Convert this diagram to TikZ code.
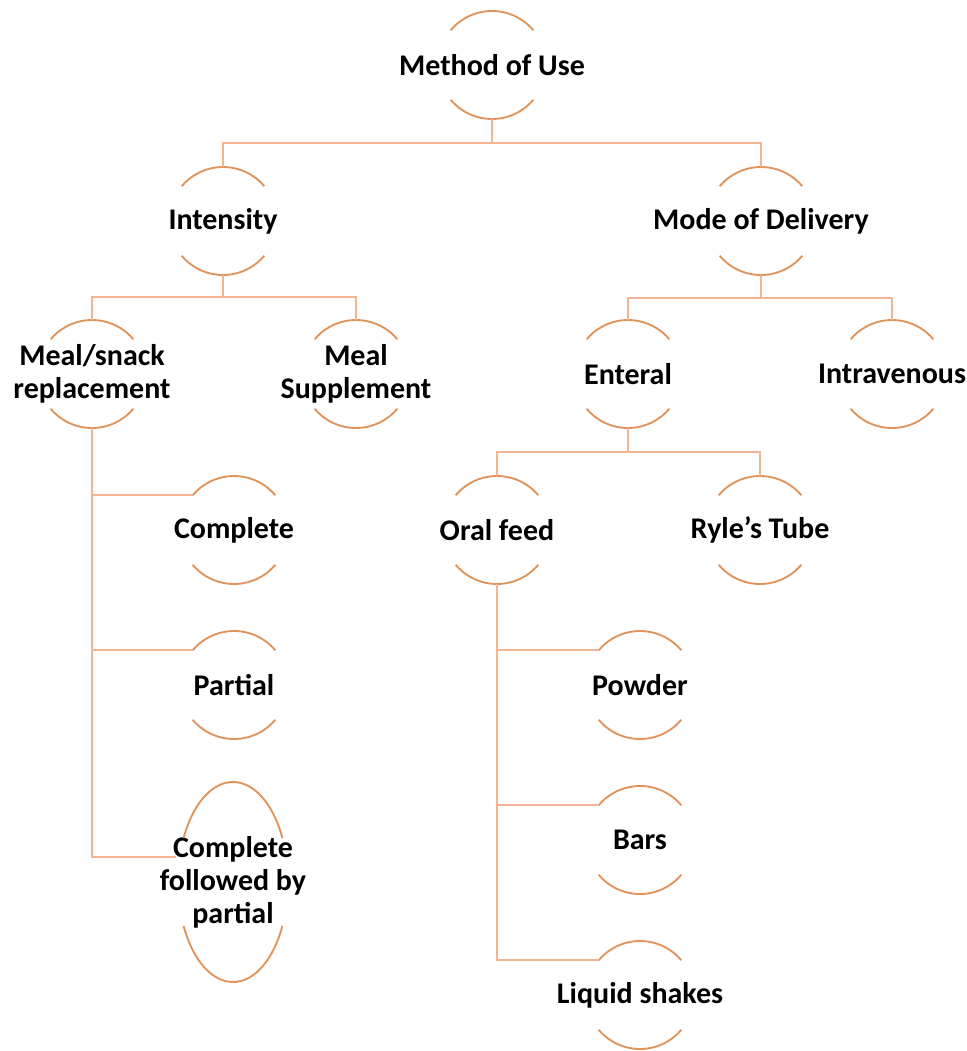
\documentclass[tikz,border=0pt]{standalone}
\usepackage{fontspec}
\setmainfont{Carlito}
\usetikzlibrary{calc}
\definecolor{arccol}{RGB}{224,148,92}
\definecolor{conncol}{RGB}{242,180,146}
\def\rr{40.5pt}
\newcommand\ringnode[3]{%
  \node[lbl] (#1) at (#2) {#3};
  \draw[arcst] ([shift={(40:\rr)}]#1.center) arc[start angle=40,end angle=140,radius=\rr];
  \draw[arcst] ([shift={(220:\rr)}]#1.center) arc[start angle=220,end angle=320,radius=\rr];
  \coordinate (#1-t) at ([yshift=\rr]#1.center);
  \coordinate (#1-b) at ([yshift=-\rr]#1.center);
  \coordinate (#1-l) at ([shift={(140:\rr)}]#1.center);
}
\tikzset{
  lbl/.style={font=\fontsize{22.5pt}{24.75pt}\selectfont\bfseries, align=center, inner sep=0pt, text=black},
  arcst/.style={draw=arccol, line width=1.4pt},
  conn/.style={draw=conncol, line width=1.3pt}
}
\begin{document}
\begin{tikzpicture}[x=0.75pt,y=-0.75pt]
\useasboundingbox[fill=white] (0,0) rectangle (967,1051);

\ringnode{m}{492,65}{Method of Use}
\ringnode{i}{223,221}{Intensity}
\ringnode{d}{761,221}{Mode of Delivery}
\ringnode{ms}{92,374}{Meal/snack\\replacement}
\ringnode{sup}{356,374}{Meal\\Supplement}
\ringnode{en}{628,374}{Enteral}
\ringnode{iv}{892,374}{Intravenous}
\ringnode{c}{234,530}{Complete}
\ringnode{of}{497,530}{Oral feed}
\ringnode{rt}{760,530}{Ryle’s Tube}
\ringnode{p}{234,685}{Partial}
\ringnode{pw}{640,685}{Powder}
\ringnode{b}{640,840}{Bars}
\ringnode{ls}{640,995}{Liquid shakes}

% ellipse node
\node[lbl] (cfp) at (233,882) {Complete\\followed by\\partial};
\draw[arcst] ([shift={(26:41.25pt and 75pt)}]cfp.center) arc[start angle=26,end angle=154,x radius=41.25pt,y radius=75pt];
\draw[arcst] ([shift={(206:41.25pt and 75pt)}]cfp.center) arc[start angle=206,end angle=334,x radius=41.25pt,y radius=75pt];
\coordinate (cfp-l) at ([shift={(-43pt,18.75pt)}]cfp.center);

% buses
\coordinate (bus1) at (492,143);
\coordinate (bus2) at (223,297);
\coordinate (bus3) at (761,298);
\coordinate (bus4) at (628,452);

\draw[conn] (m-b) -- (bus1);
\draw[conn] (bus1) -| (i-t);
\draw[conn] (bus1) -| (d-t);

\draw[conn] (i-b) -- (bus2);
\draw[conn] (bus2) -| (ms-t);
\draw[conn] (bus2) -| (sup-t);

\draw[conn] (d-b) -- (bus3);
\draw[conn] (bus3) -| (en-t);
\draw[conn] (bus3) -| (iv-t);

\draw[conn] (en-b) -- (bus4);
\draw[conn] (bus4) -| (of-t);
\draw[conn] (bus4) -| (rt-t);

\draw[conn] (ms-b) |- (c-l);
\draw[conn] (ms-b) |- (p-l);
\draw[conn] (ms-b) |- (cfp-l);

\draw[conn] (of-b) |- (pw-l);
\draw[conn] (of-b) |- (b-l);
\draw[conn] (of-b) |- (ls-l);
\end{tikzpicture}
\end{document}
